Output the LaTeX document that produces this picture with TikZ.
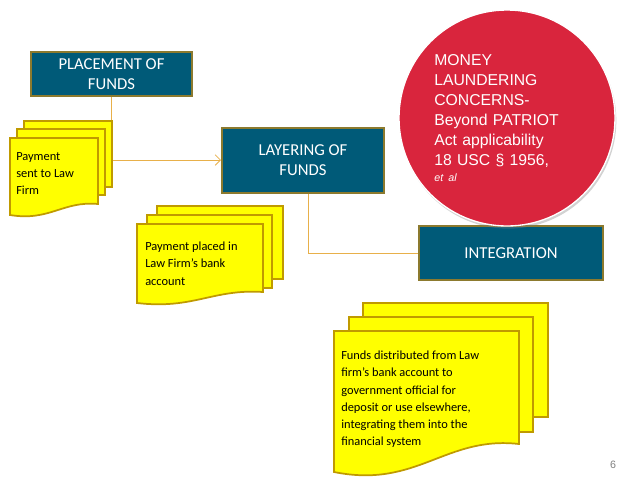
\documentclass[tikz,border=0pt]{standalone}
\usepackage{fontspec}
\setmainfont{Carlito}
\newfontfamily\arialf{Liberation Sans}
\usetikzlibrary{arrows.meta,shadows}
\definecolor{teal}{HTML}{005A78}
\definecolor{boxedge}{HTML}{8C7A2E}
\definecolor{docfill}{HTML}{FFFF00}
\definecolor{docedge}{HTML}{C09A00}
\definecolor{circred}{HTML}{D9253D}
\definecolor{conn}{HTML}{E8B04A}
\tikzset{
  stage/.style={draw=boxedge,line width=1.5pt,fill=teal,text=white,font=\fontsize{12.5}{15}\selectfont,align=center,inner sep=0pt},
  sheet/.style={draw=docedge,line width=1.3pt,fill=docfill},
  doctext/.style={anchor=north west,align=left,font=\fontsize{9.3}{12.8}\selectfont,inner sep=0pt},
  conline/.style={draw=conn,line width=0.6pt}
}
\newcommand{\backsheet}[4]{\fill[sheet] (#1,#2) rectangle (#3,#4);}
\newcommand{\frontsheet}[5]{%
  \fill[sheet] (#1,#2) -- (#3,#2) -- (#3,#4) .. controls ({#3-0.4*(#3-#1)},{#4-0.3*#5}) and ({#1+0.45*(#3-#1)},{#4+1.6*#5}) .. (#1,{#4+#5}) -- cycle;}
\begin{document}
\begin{tikzpicture}[x=0.75pt,y=-0.75pt]
\useasboundingbox[fill=white] (0,0) rectangle (638,479);
% stage boxes
\node[stage,minimum width=120.75pt,minimum height=33pt] (place) at (111.5,74) {PLACEMENT OF\\FUNDS};
\node[stage,minimum width=121.5pt,minimum height=48.75pt] (layer) at (303,160) {LAYERING OF\\FUNDS};
\node[stage,minimum width=138pt,minimum height=40.5pt] (integ) at (511,253) {INTEGRATION};
% circle
\node[circle,draw=white,line width=1pt,fill=circred,minimum size=162pt,text=white,drop shadow={opacity=0.35,shadow xshift=1pt,shadow yshift=-2pt},
  align=left,text width=109pt,font=\arialf\fontsize{11.8}{15}\selectfont] (ml) at (507,118)
  {MONEY\\LAUNDERING\\CONCERNS-\\Beyond PATRIOT\\Act applicability\\18 USC \S\ 1956,\\[-3pt]{\fontsize{8}{10}\selectfont\itshape et al}\\[6pt]};
% connectors
\draw[conline,-{Straight Barb[length=4pt]}] (place.south) |- (layer.west);
\draw[conline] (layer.south) ++(5,0) coordinate (ls) |- (integ.west);
% stack 1
\backsheet{24}{121}{112}{187}
\backsheet{17}{129}{105}{195}
\frontsheet{10}{138}{98}{204}{11}
\node[doctext] (d1) at (16,152) {Payment\\sent to Law\\Firm};
% stack 2
\backsheet{157}{206}{283}{279}
\backsheet{147}{215}{272}{288}
\frontsheet{137}{224}{263}{292}{11}
\node[doctext] (d2) at (145,242) {Payment placed in\\Law Firm’s bank\\account};
% stack 3
\backsheet{363}{303}{548}{417}
\backsheet{349}{317}{533}{432}
\frontsheet{334}{331}{519}{444}{28}
\node[doctext] (d3) at (341,351) {Funds distributed from Law\\firm’s bank account to\\government official for\\deposit or use elsewhere,\\integrating them into the\\financial system};
\node[text=gray,font=\arialf\fontsize{8}{10}\selectfont] (pg) at (613,465) {6};
\end{tikzpicture}
\end{document}
